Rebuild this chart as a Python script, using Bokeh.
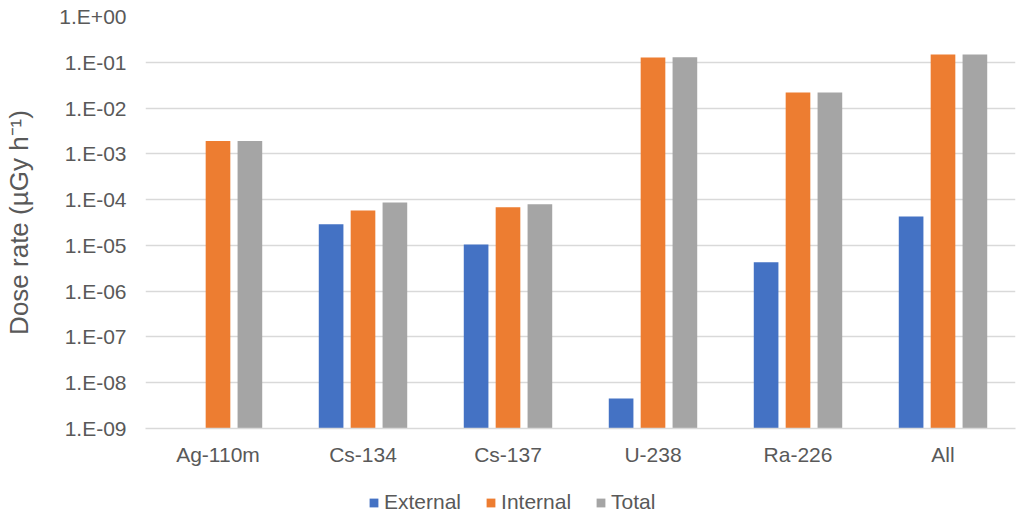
from bokeh.plotting import figure
from bokeh.layouts import column
from bokeh.models import (ColumnDataSource, FactorRange, Range1d, FixedTicker,
                          CustomJSTickFormatter, Legend, LegendItem)
from bokeh.transform import dodge
from bokeh.embed import file_html
from bokeh.resources import INLINE

nan = float("nan")

categories = ["Ag-110m", "Cs-134", "Cs-137", "U-238", "Ra-226", "All"]
external = [nan, 2.9e-5, 1.05e-5, 4.5e-9, 4.3e-6, 4.3e-5]
internal = [1.9e-3, 5.8e-5, 6.8e-5, 0.127, 0.0218, 0.147]
total = [1.9e-3, 8.7e-5, 7.9e-5, 0.128, 0.0218, 0.148]
series_names = ["External", "Internal", "Total"]
tick_values = [1e-9, 1e-8, 1e-7, 1e-6, 1e-5, 1e-4, 1e-3, 1e-2, 1e-1, 1e0]
tick_labels = ["1.E-09", "1.E-08", "1.E-07", "1.E-06", "1.E-05", "1.E-04",
               "1.E-03", "1.E-02", "1.E-01", "1.E+00"]
y_label = "Dose rate (µGy h⁻¹)"

colors = ["#4472C4", "#ED7D31", "#A5A5A5"]
FONT = "Liberation Sans"
TXT = "#595959"
GRID = "#D9D9D9"

base = tick_values[0]
src = ColumnDataSource(dict(cat=categories, external=external, internal=internal,
                            total=total, base=[base] * len(categories)))

p = figure(x_range=FactorRange(*categories), y_axis_type="log",
           y_range=Range1d(tick_values[0], tick_values[-1]),
           frame_width=870, frame_height=412,
           min_border_left=145, min_border_right=14, min_border_top=16, min_border_bottom=58,
           output_backend="svg", toolbar_location=None)
p.outline_line_color = None
p.background_fill_color = "white"
p.border_fill_color = "white"

offsets = [-0.22, 0.0, 0.22]
for key, off, col in zip(["external", "internal", "total"], offsets, colors):
    p.vbar(x=dodge("cat", off, range=p.x_range), top=key, bottom="base",
           width=0.17, source=src, fill_color=col, line_color=None)

# y axis
p.yaxis.ticker = FixedTicker(ticks=tick_values)
p.yaxis.formatter = CustomJSTickFormatter(args=dict(labels=tick_labels), code="""
    const i = Math.round(Math.log10(tick)) + 9;
    return labels[i];
""")
p.yaxis.axis_line_color = None
p.yaxis.major_tick_line_color = None
p.yaxis.minor_tick_line_color = None
p.yaxis.major_tick_out = 0
p.yaxis.major_label_standoff = 19
p.yaxis.major_label_text_font = FONT
p.yaxis.major_label_text_font_size = "21px"
p.yaxis.major_label_text_color = TXT
p.yaxis.axis_label = y_label
p.yaxis.axis_label_text_font = FONT
p.yaxis.axis_label_text_font_size = "26px"
p.yaxis.axis_label_text_font_style = "normal"
p.yaxis.axis_label_text_color = TXT
p.yaxis.axis_label_standoff = 22

# x axis
p.xaxis.axis_line_color = GRID
p.xaxis.axis_line_width = 1.5
p.xaxis.major_tick_line_color = None
p.xaxis.minor_tick_line_color = None
p.xaxis.major_tick_out = 0
p.xaxis.major_label_standoff = 14
p.xaxis.major_label_text_font = FONT
p.xaxis.major_label_text_font_size = "21px"
p.xaxis.major_label_text_color = TXT

# grid
p.xgrid.grid_line_color = None
p.ygrid.ticker = FixedTicker(ticks=tick_values)
p.ygrid.grid_line_color = GRID
p.ygrid.grid_line_width = 1.5

# legend strip below the chart (its renderers sit outside its visible range)
lf = figure(width=1029, height=32, x_range=Range1d(0, 1), y_range=Range1d(0, 1),
            min_border=0, output_backend="svg", toolbar_location=None)
lf.axis.visible = False
lf.grid.visible = False
lf.outline_line_color = None
lf.background_fill_color = "white"
lf.border_fill_color = "white"
lrs = [lf.vbar(x=[-5], top=[-4], bottom=[-5], width=0.1, fill_color=c, line_color=None)
       for c in colors]
legend = Legend(items=[LegendItem(label=n, renderers=[r]) for n, r in zip(series_names, lrs)],
                orientation="horizontal", location=(223, 4),
                glyph_width=11, glyph_height=11, label_standoff=5, spacing=24,
                padding=0, margin=0, border_line_color=None, background_fill_alpha=0,
                label_text_font=FONT, label_text_font_size="21px", label_text_color=TXT)
lf.add_layout(legend, "center")

layout = column(p, lf, spacing=0)
open("out.html", "w").write(file_html(layout, INLINE))
